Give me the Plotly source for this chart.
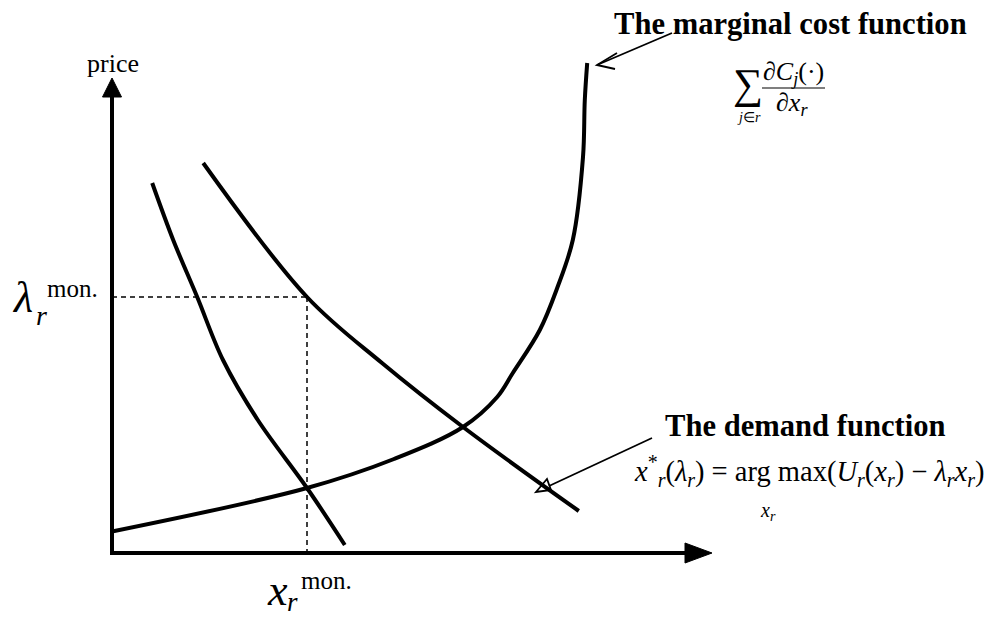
import plotly.graph_objects as go

# ---- data (quantity on x, price on y, arbitrary units) ----
mc_q = [0.0, 32.5, 47.0, 58.5, 64.2, 66.8, 71.3, 74.2, 76.8, 78.5, 78.8, 79.2]
mc_p = [4.3, 13.0, 18.8, 25.2, 31.2, 36.0, 44.6, 53.0, 62.6, 79.2, 90.6, 98.0]

demand_low_q = [6.7, 10.2, 14.2, 18.5, 24.3, 32.5, 38.8]
demand_low_p = [74.0, 62.6, 51.2, 38.6, 26.6, 13.0, 1.6]

demand_high_q = [15.2, 32.5, 45.0, 58.5, 77.8]
demand_high_p = [78.0, 51.2, 38.0, 25.2, 8.4]

x_mon = 32.5      # monopoly quantity
lam_mon = 51.2    # monopoly price

q_axis_end = 100.0
p_axis_end = 95.0

# ---- layout helpers ----
W, H = 1001, 617
Q0_PX, Q_SCALE = 112, 6.0     # pixel of q=0, pixels per unit
P0_PX, P_SCALE = 553, 5.0     # pixel of p=0, pixels per unit
SERIF = "Liberation Serif"


def px(x):
    return x / W


def py(y):
    return 1 - y / H


def path_paper(points, close=False):
    s = "M" + " L".join(f"{px(x):.5f},{py(y):.5f}" for x, y in points)
    return s + (" Z" if close else "")


fig = go.Figure()

for q, p, sm in [(demand_low_q, demand_low_p, 1.0), (demand_high_q, demand_high_p, 1.0), (mc_q, mc_p, 1.0)]:
    fig.add_trace(go.Scatter(x=q, y=p, mode="lines",
                             line=dict(color="black", width=4, shape="spline", smoothing=sm),
                             hoverinfo="skip", showlegend=False))

shapes = []
# axes
shapes.append(dict(type="line", xref="x", yref="y", x0=0, y0=-0.4, x1=0, y1=p_axis_end - 3,
                   line=dict(color="black", width=4)))
shapes.append(dict(type="line", xref="x", yref="y", x0=-0.33, y0=0, x1=q_axis_end - 3, y1=0,
                   line=dict(color="black", width=4)))
hw_q = 9.5 / Q_SCALE
hl_p = 19 / P_SCALE
shapes.append(dict(type="path", xref="x", yref="y",
                   path=f"M{-hw_q},{p_axis_end - hl_p} L{hw_q},{p_axis_end - hl_p} L0,{p_axis_end} Z",
                   fillcolor="black", line=dict(color="black", width=1)))
hw_p = 10 / P_SCALE
hl_q = 27 / Q_SCALE
shapes.append(dict(type="path", xref="x", yref="y",
                   path=f"M{q_axis_end - hl_q},{-hw_p} L{q_axis_end - hl_q},{hw_p} L{q_axis_end},0 Z",
                   fillcolor="black", line=dict(color="black", width=1)))
# monopoly guides
dash = dict(color="black", width=1.5, dash="5px,4px")
shapes.append(dict(type="line", xref="x", yref="y", x0=0, y0=lam_mon, x1=x_mon, y1=lam_mon, line=dash))
shapes.append(dict(type="line", xref="x", yref="y", x0=x_mon, y0=lam_mon, x1=x_mon, y1=0, line=dash))

# pointer to the marginal cost curve
thin = dict(color="black", width=1.8)
shapes.append(dict(type="path", xref="paper", yref="paper", path=path_paper([(672, 33), (597, 65)]), line=thin))
shapes.append(dict(type="path", xref="paper", yref="paper",
                   path=path_paper([(617, 53), (597, 65), (615, 69)]), line=thin))
# pointer to the demand curve
shapes.append(dict(type="path", xref="paper", yref="paper", path=path_paper([(652, 438), (549, 486)]), line=thin))
shapes.append(dict(type="path", xref="paper", yref="paper",
                   path=path_paper([(536, 492), (547, 479), (551, 490)], close=True), line=thin))
# fraction bar of the marginal cost formula
shapes.append(dict(type="line", xref="paper", yref="paper", x0=px(762), y0=py(88), x1=px(825), y1=py(88),
                   line=dict(color="black", width=1.2)))

fig.update_layout(shapes=shapes)


def label(text, x, y, size, xanchor="left", yanchor="middle", **kw):
    fig.add_annotation(text=text, x=x, y=y, xref=kw.pop("xref", "paper"), yref=kw.pop("yref", "paper"),
                       xanchor=xanchor, yanchor=yanchor, showarrow=False,
                       font=dict(family=SERIF, size=size, color="black"), **kw)


label("price", px(113), py(63), 26, xanchor="center")
label("<b>The marginal cost function</b>", px(790), py(24), 30.6, xanchor="center")
label("<b>The demand function</b>", px(805), py(426), 30.6, xanchor="center")

# marginal cost formula
label("∑", px(748), py(84), 42, xanchor="center")
label("<i>j</i>∈<i>r</i>", px(749), py(118), 14, xanchor="center")
label("∂<i>C</i><sub><i>j</i></sub>(·)", px(793), py(73), 26, xanchor="center")
label("∂<i>x</i><sub><i>r</i></sub>", px(792), py(104), 26, xanchor="center")

# demand formula
label("<i>x</i><sup>*</sup><sub><i>r</i></sub>(<i>λ</i><sub><i>r</i></sub>) = arg max(<i>U</i><sub><i>r</i></sub>"
      "(<i>x</i><sub><i>r</i></sub>) − <i>λ</i><sub><i>r</i></sub><i>x</i><sub><i>r</i></sub>)",
      px(632), py(471), 28.5)
label("<i>x</i><sub><i>r</i></sub>", px(768), py(511), 20, xanchor="center")

# monopoly price label
label("<i>λ</i>", px(10), lam_mon, 44, yref="y", yshift=0)
label("<i>r</i>", px(34), lam_mon, 28, yref="y", yshift=-18)
label("mon.", px(45), lam_mon, 25, yref="y", yshift=9)

# monopoly quantity label
label("<i>x</i>", x_mon, py(590), 44, xref="x", xshift=-42)
label("<i>r</i>", x_mon, py(602), 27, xref="x", xshift=-22)
label("mon.", x_mon, py(580), 25, xref="x", xshift=-8)

fig.update_layout(
    width=W, height=H,
    margin=dict(l=0, r=0, t=0, b=0),
    paper_bgcolor="white", plot_bgcolor="white",
    xaxis=dict(range=[-Q0_PX / Q_SCALE, (W - Q0_PX) / Q_SCALE], visible=False, fixedrange=True),
    yaxis=dict(range=[(P0_PX - H) / P_SCALE, P0_PX / P_SCALE], visible=False, fixedrange=True),
    showlegend=False,
)

fig.write_html("out.html", config={"displayModeBar": False})
